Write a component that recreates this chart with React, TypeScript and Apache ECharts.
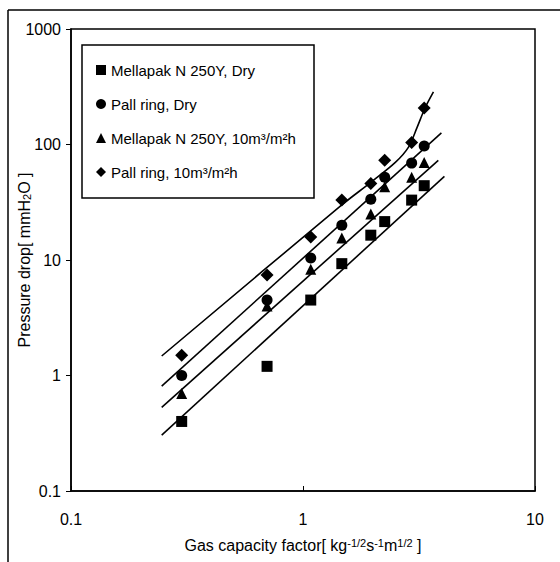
import React, { useEffect, useRef } from "react";
import * as echarts from "echarts";

const xValues = [0.3, 0.7, 1.08, 1.47, 1.96, 2.25, 2.94, 3.33];
const mellapakDry = [0.4, 1.2, 4.5, 9.3, 16.4, 21.5, 33, 44];
const pallDry = [1.0, 4.5, 10.4, 20, 33.5, 52, 69, 97];
const mellapakWet = [0.7, 4.0, 8.3, 15.5, 25, 43, 52, 70];
const pallWet = [1.5, 7.4, 15.8, 33, 46, 73, 104, 207];

const mellapakDryFit = [[0.246, 0.305], [4.07, 53]];
const mellapakWetFit = [[0.246, 0.53], [3.83, 73]];
const pallDryFit = [[0.246, 0.81], [3.95, 126]];
const pallWetFit = [
  [0.246, 1.475], [1.47, 30], [1.96, 47], [2.5, 70], [2.85, 95], [3.1, 140], [3.35, 205], [3.65, 285],
];

const yTickLabels = ["0.1", "1", "10", "100", "1000"];
const xTickLabels = ["0.1", "1", "10"];

const seriesNames = [
  "Mellapak N 250Y, Dry",
  "Pall ring, Dry",
  "Mellapak N 250Y, 10m³/m²h",
  "Pall ring, 10m³/m²h",
];
const seriesSymbols = ["rect", "circle", "triangle", "diamond"];
const seriesValues = [mellapakDry, pallDry, mellapakWet, pallWet];
const fitLines = [mellapakDryFit, pallDryFit, mellapakWetFit, pallWetFit];

const FONT = "'Liberation Sans', Arial, sans-serif";

function logLabel(labels: string[]) {
  return (v: number) => {
    const s = labels.find((l) => Math.abs(parseFloat(l) - v) < 1e-9 * Math.max(1, v));
    return s ?? String(v);
  };
}

export default function App() {
  const ref = useRef<HTMLDivElement>(null);
  useEffect(() => {
    if (!ref.current) return;
    const chart = echarts.init(ref.current, undefined, { renderer: "svg" });
    const scatter = seriesValues.map((vals, i) => ({
      type: "scatter",
      name: seriesNames[i],
      symbol: seriesSymbols[i],
      symbolSize: seriesSymbols[i] === "diamond" ? 13 : 11,
      itemStyle: { color: "#000", opacity: 1 },
      data: vals.map((v, j) => [xValues[j], v]),
      z: 3,
    }));
    const lines = fitLines.map((pts, i) => ({
      type: "line",
      name: "fit" + i,
      data: pts,
      showSymbol: false,
      symbol: "none",
      smooth: i === 3 ? 0.3 : false,
      lineStyle: { color: "#000", width: 1.6 },
      silent: true,
      z: 2,
    }));
    chart.setOption({
      animation: false,
      backgroundColor: "#fff",
      textStyle: { fontFamily: FONT },
      grid: {
        left: 71, right: 25, top: 29, bottom: 71,
        outerBoundsMode: "none",
        containLabel: false,
        show: true, borderColor: "#000", borderWidth: 1.5,
      },
      legend: {
        data: seriesNames,
        orient: "vertical",
        left: 96,
        top: 62,
        padding: 0,
        itemWidth: 10,
        itemHeight: 10,
        itemGap: 18,
        textStyle: { fontSize: 15, fontFamily: FONT, color: "#000", lineHeight: 16 },
        itemStyle: { color: "#000", opacity: 1 },
        selectedMode: false,
      },
      xAxis: {
        type: "log",
        logBase: 10,
        min: 0.1,
        max: 10,
        name: "Gas capacity factor[ kg{sup|-1/2}s{sup|-1}m{sup|1/2} ]",
        nameLocation: "middle",
        nameGap: 46,
        nameMoveOverlap: false,
        nameTextStyle: {
          fontSize: 16, color: "#000", fontFamily: FONT,
          rich: { sup: { fontSize: 11, verticalAlign: "top", fontFamily: FONT, color: "#000" } },
        },
        axisLine: { lineStyle: { color: "#000", width: 1.5 } },
        axisTick: { inside: true, length: 5, lineStyle: { color: "#000" } },
        minorTick: { show: false },
        splitLine: { show: false },
        axisLabel: { fontSize: 16, color: "#000", margin: 20, fontFamily: FONT, formatter: logLabel(xTickLabels) },
      },
      yAxis: {
        type: "log",
        logBase: 10,
        min: 0.1,
        max: 1000,
        name: "Pressure drop[ mmH{sub|2}O ]",
        nameLocation: "middle",
        nameGap: 39,
        nameMoveOverlap: false,
        nameTextStyle: {
          fontSize: 16, color: "#000", fontFamily: FONT,
          rich: { sub: { fontSize: 11, verticalAlign: "bottom", fontFamily: FONT, color: "#000" } },
        },
        axisLine: { lineStyle: { color: "#000", width: 1.5 } },
        axisTick: { inside: false, length: 5, lineStyle: { color: "#000" } },
        minorTick: { show: false },
        splitLine: { show: false },
        axisLabel: { fontSize: 16, color: "#000", margin: 10, fontFamily: FONT, formatter: logLabel(yTickLabels) },
      },
      graphic: [
        { type: "line", shape: { x1: 8, y1: 10, x2: 560, y2: 10 }, style: { stroke: "#000", lineWidth: 1.5 } },
        { type: "line", shape: { x1: 8, y1: 10, x2: 8, y2: 562 }, style: { stroke: "#000", lineWidth: 1.5 } },
        {
          type: "rect", z: 1,
          shape: { x: 82, y: 45, width: 232, height: 153 },
          style: { fill: "#fff", stroke: "#000", lineWidth: 1.5 },
        },
      ],
      series: [...lines, ...scatter],
    });
    return () => chart.dispose();
  }, []);
  return <div ref={ref} style={{ position: "fixed", left: 0, top: 0, width: 560, height: 562 }} />;
}
